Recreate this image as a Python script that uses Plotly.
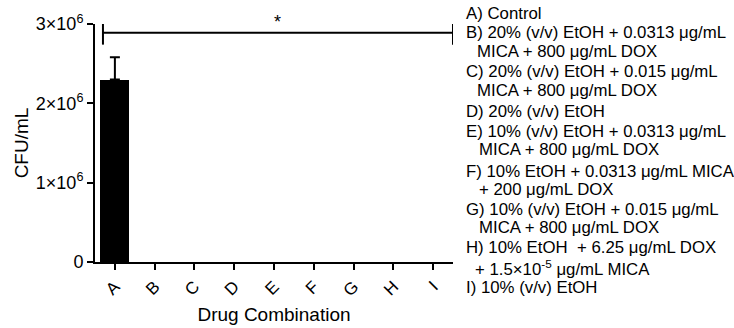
import plotly.graph_objects as go

categories = ["A", "B", "C", "D", "E", "F", "G", "H", "I"]
cfu_mean = [2.30e6, 0, 0, 0, 0, 0, 0, 0, 0]
cfu_err = [0.28e6, 0, 0, 0, 0, 0, 0, 0, 0]
y_tickvals = [0, 1e6, 2e6, 3e6]
y_ticktext = ["0", "1×10<sup>6</sup>", "2×10<sup>6</sup>", "3×10<sup>6</sup>"]

legend_lines = [
    ("A) Control", 0, 14),
    ("B) 20% (v/v) EtOH + 0.0313 μg/mL", 0, 33),
    ("MICA + 800 μg/mL DOX", 11, 51),
    ("C) 20% (v/v) EtOH + 0.015 μg/mL", 0, 72),
    ("MICA + 800 μg/mL DOX", 11, 90),
    ("D) 20% (v/v) EtOH", 0, 111),
    ("E) 10% (v/v) EtOH + 0.0313 μg/mL", 0, 131),
    ("MICA + 800 μg/mL DOX", 13, 149),
    ("F) 10% EtOH + 0.0313 μg/mL MICA", 0, 171),
    ("+ 200 μg/mL DOX", 13, 189),
    ("G) 10% (v/v) EtOH + 0.015 μg/mL", 0, 209),
    ("MICA + 800 μg/mL DOX", 13, 227),
    ("H) 10% EtOH  + 6.25 μg/mL DOX", 0, 247),
    ("+ 1.5×10<sup>-5</sup> μg/mL MICA", 9, 268),
    ("I) 10% (v/v) EtOH", 0, 287),
]

W, H = 734, 328
ML, MR, MT, MB = 95, 281, 24, 66
FONT = "Arial, 'Liberation Sans', sans-serif"

fig = go.Figure()
fig.add_trace(go.Bar(
    x=categories, y=cfu_mean,
    marker=dict(color="black", line=dict(width=0)),
    width=0.73, hoverinfo="skip",
))
# error bars only where an error exists
err_x = [c for c, e in zip(categories, cfu_err) if e > 0]
err_y = [m for m, e in zip(cfu_mean, cfu_err) if e > 0]
err_v = [e for e in cfu_err if e > 0]
fig.add_trace(go.Scatter(
    x=err_x, y=err_y, mode="markers", marker=dict(size=0.1, color="black", opacity=0),
    error_y=dict(type="data", array=err_v, arrayminus=[0] * len(err_v),
                 symmetric=False, color="black", thickness=2, width=5),
    hoverinfo="skip",
))

# significance bracket
x0, x1 = -0.3, 8.5
yb = 2.89e6
fig.add_shape(type="line", x0=x0, x1=x1, y0=yb, y1=yb, xref="x", yref="y",
              line=dict(color="black", width=2))
for xx in (x0, x1):
    fig.add_shape(type="line", x0=xx, x1=xx, y0=2.74e6, y1=3.0e6, xref="x", yref="y",
                  line=dict(color="black", width=2))
fig.add_annotation(x=(x0 + x1) / 2, y=1.0, xref="x", yref="paper", yshift=-10,
                   yanchor="bottom", text="*", showarrow=False,
                   font=dict(size=18, color="black", family=FONT))

pw, ph = W - ML - MR, H - MT - MB
for text, dx, ypx in legend_lines:
    fig.add_annotation(x=(464 + dx - ML) / pw, y=(H - MB - ypx) / ph,
                       xref="paper", yref="paper",
                       text=text, showarrow=False, xanchor="left", yanchor="middle",
                       font=dict(size=16.8, color="black", family=FONT))

fig.update_layout(
    width=W, height=H,
    margin=dict(l=ML, r=MR, t=MT, b=MB, autoexpand=False),
    paper_bgcolor="white", plot_bgcolor="white",
    showlegend=False,
    font=dict(family=FONT, color="black"),
    bargap=0,
)
fig.update_xaxes(
    type="category", range=[-0.5, 8.5],
    showline=True, linecolor="black", linewidth=2,
    ticks="outside", ticklen=6, tickwidth=2, tickcolor="black",
    tickangle=-45, tickfont=dict(size=17, family=FONT),
    title=dict(text="Drug Combination", font=dict(size=19, family=FONT), standoff=9),
    showgrid=False, zeroline=False,
)
fig.update_yaxes(
    range=[0, 3e6], tickvals=y_tickvals, ticktext=y_ticktext,
    showline=True, linecolor="black", linewidth=2,
    ticks="outside", ticklen=6, tickwidth=2, tickcolor="black",
    tickfont=dict(size=18, family=FONT),
    title=dict(text="CFU/mL", font=dict(size=19, family=FONT), standoff=2),
    showgrid=False, zeroline=False,
)

fig.write_html("out.html", config={"displayModeBar": False},
               post_script="document.body.style.margin='0';")
